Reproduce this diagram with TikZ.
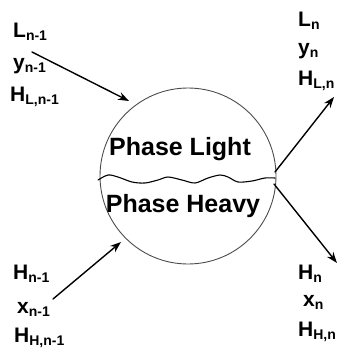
\documentclass[tikz,border=0pt]{standalone}
\usepackage{fontspec}
\setmainfont{Liberation Sans}
\usetikzlibrary{arrows.meta}

\newcommand{\stsub}[1]{\raisebox{-3pt}{\fontsize{14}{14}\selectfont\bfseries #1}}

\begin{document}
\begin{tikzpicture}[x=1pt,y=-1pt,line cap=round,line join=round,
  lbl/.style={anchor=base west,inner sep=0pt,font=\fontsize{21}{21}\selectfont\bfseries},
  phase/.style={anchor=base,inner sep=0pt,font=\fontsize{25}{25}\selectfont\bfseries},
  flow/.style={line width=1.4pt,-{Stealth[length=11pt,width=8pt]}}]
\useasboundingbox (0,0) rectangle (341,348);

\node[circle,draw=black!70,line width=0.9pt,minimum size=176pt,inner sep=0pt] (drum) at (188,176) {};

% separation surface
\draw[line width=1.1pt] plot[smooth] coordinates {(98,180) (108,175) (118,177) (132,182) (145,183)
  (158,180) (168,177) (182,180) (195,183) (208,178) (220,175) (228,177) (238,182) (252,181) (265,178) (275,178)};

\node[phase] (light) at (180,155) {Phase Light};
\node[phase] (heavy) at (183,212) {Phase Heavy};

% inlet vapour
\node[lbl] (Lin) at (13,37) {L\stsub{n-1}};
\node[lbl] (yin) at (13,69) {y\stsub{n-1}};
\node[lbl] (HLin) at (10,101) {H\stsub{L,n-1}};
% outlet vapour
\node[lbl] (Lout) at (298,26) {L\stsub{n}};
\node[lbl] (yout) at (298,54) {y\stsub{n}};
\node[lbl] (HLout) at (298,85) {H\stsub{L,n}};
% inlet liquid
\node[lbl] (Hin) at (13,279) {H\stsub{n-1}};
\node[lbl] (xin) at (17,313) {x\stsub{n-1}};
\node[lbl] (HHin) at (14,342) {H\stsub{H,n-1}};
% outlet liquid
\node[lbl] (Hout) at (298,279) {H\stsub{n}};
\node[lbl] (xout) at (303,306) {x\stsub{n}};
\node[lbl] (HHout) at (298,336) {H\stsub{H,n}};

\coordinate (a1) at (32,52);
\coordinate (a2) at (129,101);
\coordinate (b1) at (275,172);
\coordinate (b2) at (334,97);
\coordinate (c1) at (274,184);
\coordinate (c2) at (337,263);
\coordinate (d1) at (53,299);
\coordinate (d2) at (121,242);

\draw[flow] (a1) -- (a2);
\draw[flow] (b1) -- (b2);
\draw[flow] (c1) -- (c2);
\draw[flow] (d1) -- (d2);
\end{tikzpicture}
\end{document}
